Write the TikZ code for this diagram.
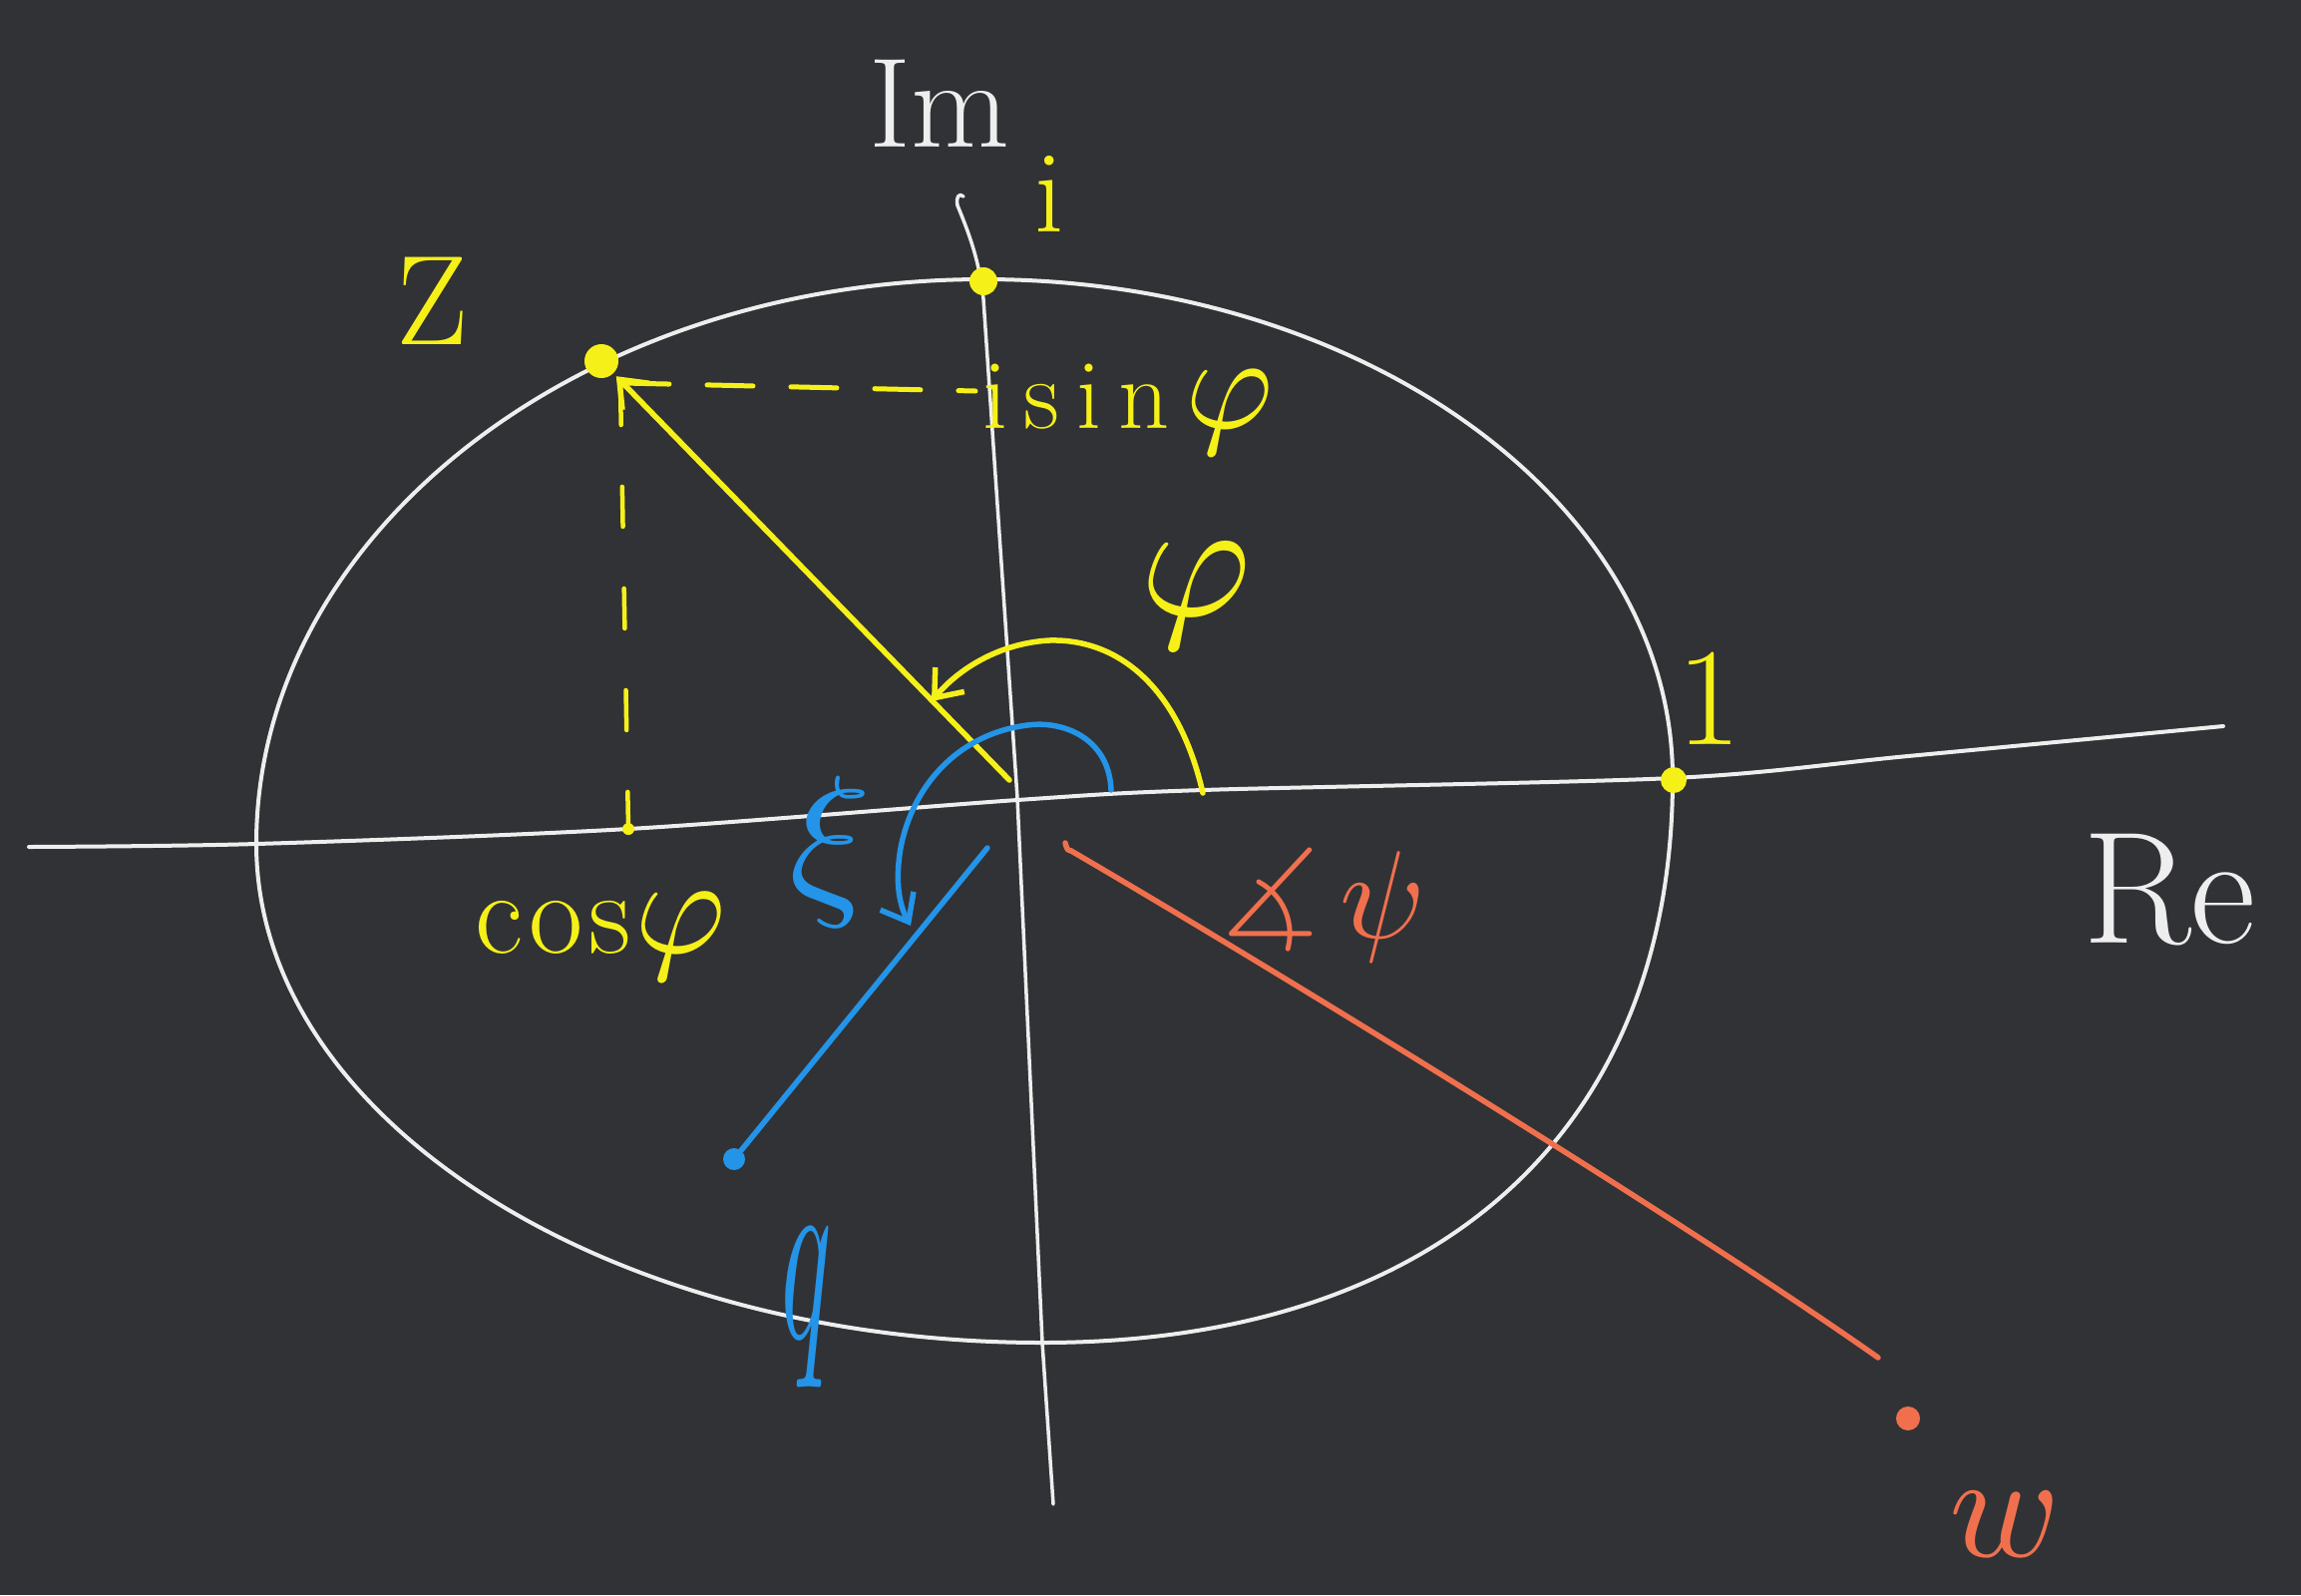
\documentclass[tikz,border=0pt]{standalone}
\usepackage{unicode-math}
\usetikzlibrary{arrows.meta}
\definecolor{board}{RGB}{49,50,53}
\definecolor{chalk}{RGB}{238,238,238}
\definecolor{cyel}{RGB}{246,240,25}
\definecolor{cblue}{RGB}{35,148,232}
\definecolor{corange}{RGB}{240,112,78}
\newcommand{\fsz}[1]{\fontsize{#1}{#1}\selectfont}
\begin{document}
\begin{tikzpicture}[x=1pt,y=-1pt,line cap=round,line join=round,
  chalkline/.style={draw=chalk,line width=4pt},
  yline/.style={draw=cyel,line width=5.5pt},
  bline/.style={draw=cblue,line width=5.5pt},
  oline/.style={draw=corange,line width=5.5pt},
  dotnode/.style={circle,fill=#1,inner sep=0pt},
  lbl/.style={inner sep=0pt,text=#1},
  tipb/.style={-{Straight Barb[length=24pt,width=38pt]}}]
\fill[board] (0,0) rectangle (2307,1599);
\useasboundingbox (0,0) rectangle (2307,1599);

% unit circle (hand drawn, egg shaped)
\coordinate (eL) at (257,846);
\coordinate (eT) at (986,280);
\coordinate (eR) at (1677,780);
\coordinate (eB) at (1045,1346);
\draw[chalkline] (eL) .. controls (257,534) and (584,280) .. (eT)
  .. controls (1367,280) and (1677,504) .. (eR)
  .. controls (1677,1135) and (1440,1346) .. (eB)
  .. controls (610,1346) and (257,1122) .. (eL) -- cycle;

% axes
\draw[chalkline] plot[smooth,tension=0.5] coordinates {
 (29,849) (257,846) (630,831) (1020,802) (1206,792) (1677,780) (1913,758) (2229,728)};
\draw[chalkline,line width=3.5pt] (966,197) .. controls (962,193) and (958,197) .. (960,206)
  .. controls (972,235) and (982,262) .. (986,300)
  -- (1020,800) -- (1045,1346) -- (1056,1508);

% named points
\coordinate (O) at (1020,800);
\coordinate (zs) at (1012,782);
\node[dotnode=cyel,minimum size=34pt] (Z) at (603,362) {};
\node[dotnode=cyel,minimum size=28pt] (I) at (986,282) {};
\node[dotnode=cyel,minimum size=26pt] (One) at (1678,782) {};
\node[dotnode=cyel,minimum size=12pt] (C) at (630,831) {};
\node[dotnode=cblue,minimum size=22pt] (Q) at (736,1162) {};
\node[dotnode=corange,minimum size=24pt] (W) at (1913,1422) {};
\coordinate (Zr) at (625,384);
\coordinate (Zd) at (622,386);
\coordinate (Sh) at (978,392);
\coordinate (bs) at (990,850);
\coordinate (os) at (1074,853);
\coordinate (oe) at (1883,1361);

% z vector and projections
\draw[yline,tipb,shorten >=4pt] (zs) -- (Z);
\draw[yline,line width=5pt,dash pattern=on 46pt off 38pt] (Zr) -- (Sh);
\draw[yline,line width=4.5pt,dash pattern=on 40pt off 62pt] (Zd) -- (C);

% angle phi
\coordinate (pa) at (1206,795);
\coordinate (pb) at (934,703);
\draw[yline,tipb] (pa) .. controls (1182,690) and (1122,640) .. (1052,642)
  .. controls (1000,645) and (960,672) .. (pb);

% blue angle xi and vector q
\coordinate (xa) at (1114,792);
\coordinate (xb) at (913,928);
\draw[bline,tipb] (xa) .. controls (1112,740) and (1066,722) .. (1030,727)
  .. controls (960,736) and (915,788) .. (903,850)
  .. controls (897,885) and (902,908) .. (xb);
\draw[bline] (bs) -- (Q);

% orange line to w
\draw[oline] (1068,845) .. controls (1070,852) .. (os);
\draw[oline] (os) .. controls (1300,985) and (1700,1232) .. (oe);

% labels
\node[lbl=chalk,font=\fsz{128}] (imlab) at (942,104) {Im};
\node[lbl=chalk,font=\fsz{160}] (relab) at (2175,892) {Re};
\node[lbl=cyel,font=\fsz{128}] (zlab) at (434,302) {Z};
\node[lbl=cyel,font=\fsz{118}] (ilab) at (1052,194) {i};
\node[lbl=cyel,font=\fsz{140}] (onelab) at (1714,700) {1};
\node[lbl=cyel,font=\fsz{100},anchor=west] (sinlab) at (985,412)
  {i\,s\,i\,n\,{\fsz{135}$φ$}};
\node[lbl=cyel,font=\fsz{118},anchor=west] (coslab) at (476,940)
  {c\kern6pt o\kern6pt s\kern4pt{\fsz{140}$φ$}};
\node[lbl=cyel,font=\fsz{170}] (philab) at (1199,598) {$φ$};
\node[lbl=cblue,font=\fsz{170}] (xilab) at (832,855) {$ξ$};
\node[lbl=cblue,font=\fsz{150}] (qlab) at (809,1310) {\scalebox{0.7}[1.7]{$q$}};
\node[lbl=corange,font=\fsz{125}] (psilab) at (1326,908) {$∡\,ψ$};
\node[lbl=corange,font=\fsz{150}] (wlab) at (2008,1528) {$w$};
\end{tikzpicture}
\end{document}
